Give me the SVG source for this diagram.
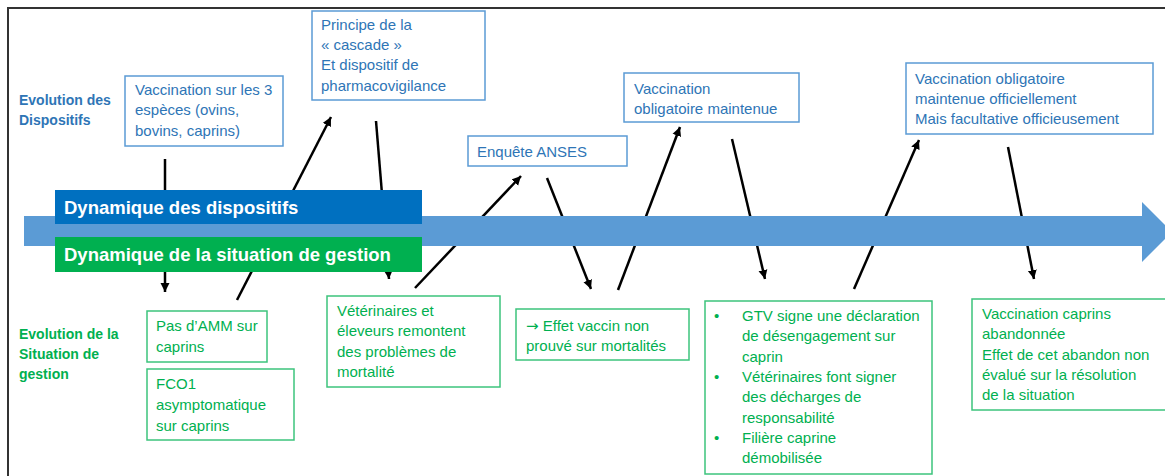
<svg xmlns="http://www.w3.org/2000/svg" width="1165" height="476" viewBox="0 0 1165 476">
<style>
text{font-family:"Liberation Sans",Arial,sans-serif;}
.bt{fill:#2E75B6;font-size:15px;}
.gt{fill:#00B050;font-size:15px;}
.bb{fill:#FFFFFF;stroke:#5B9BD5;stroke-width:1.5;}
.gb{fill:#FFFFFF;stroke:#3CC47C;stroke-width:1.5;}
.lbl{font-size:14px;font-weight:bold;}
.band{fill:#FFFFFF;font-size:18.5px;font-weight:bold;}
.con{stroke:#000000;stroke-width:2.5;fill:none;marker-end:url(#ah);}
.sym{font-family:"DejaVu Sans",sans-serif;}
</style>
<defs>
<marker id="ah" markerUnits="userSpaceOnUse" markerWidth="10" markerHeight="10" refX="9" refY="5" orient="auto">
<path d="M0,0.5 L9,5 L0,9.5 z" fill="#000000"/>
</marker>
</defs>
<rect x="0" y="0" width="1165" height="476" fill="#FFFFFF"/>
<path d="M8,476 L8,8 L1170,8" fill="none" stroke="#333333" stroke-width="2"/>

<g id="connectors">
<line class="con" x1="165" y1="159" x2="165" y2="292"/>
<line class="con" x1="237" y1="300" x2="331" y2="117"/>
<line class="con" x1="376" y1="121" x2="389" y2="279"/>
<line class="con" x1="415" y1="288" x2="521" y2="176"/>
<line class="con" x1="547" y1="178" x2="591" y2="289"/>
<line class="con" x1="618" y1="290" x2="680" y2="127"/>
<line class="con" x1="732" y1="139" x2="765" y2="279"/>
<line class="con" x1="854" y1="289" x2="919" y2="140"/>
<line class="con" x1="1008" y1="147" x2="1034" y2="279"/>
</g>

<g id="timeline">
<path d="M24,216 L1142,216 L1142,202 L1172,232 L1142,262 L1142,246 L24,246 z" fill="#5B9BD5"/>
</g>
<g id="band-dispositifs">
<rect x="55" y="190" width="367" height="34" fill="#0070C0"/>
<text class="band" x="64" y="214">Dynamique des dispositifs</text>
</g>
<g id="band-gestion">
<rect x="55" y="237" width="367" height="35" fill="#00B050"/>
<text class="band" x="64" y="261">Dynamique de la situation de gestion</text>
</g>

<g id="label-dispositifs">
<text class="lbl" fill="#2E75B6" x="19" y="105">Evolution des</text>
<text class="lbl" fill="#2E75B6" x="19" y="125">Dispositifs</text>
</g>
<g id="label-gestion">
<text class="lbl" fill="#00B050" x="19" y="339">Evolution de la</text>
<text class="lbl" fill="#00B050" x="19" y="359">Situation de</text>
<text class="lbl" fill="#00B050" x="19" y="379">gestion</text>
</g>

<g id="n-vacc3">
<rect class="bb" x="125" y="76" width="158" height="70"/>
<text class="bt" x="135" y="95">Vaccination sur les 3</text>
<text class="bt" x="135" y="115">espèces (ovins,</text>
<text class="bt" x="135" y="136">bovins, caprins)</text>
</g>
<g id="n-cascade">
<rect class="bb" x="312" y="11" width="173" height="89"/>
<text class="bt" x="321" y="30">Principe de la</text>
<text class="bt" x="321" y="50">« cascade »</text>
<text class="bt" x="321" y="70">Et dispositif de</text>
<text class="bt" x="321" y="91">pharmacovigilance</text>
</g>
<g id="n-anses">
<rect class="bb" x="468" y="136" width="159" height="30"/>
<text class="bt" x="477" y="157">Enquête ANSES</text>
</g>
<g id="n-vaccoblig">
<rect class="bb" x="624" y="73" width="175" height="49"/>
<text class="bt" x="634" y="94">Vaccination</text>
<text class="bt" x="634" y="114">obligatoire maintenue</text>
</g>
<g id="n-vaccoffic">
<rect class="bb" x="906" y="63" width="247" height="71"/>
<text class="bt" x="915" y="84">Vaccination obligatoire</text>
<text class="bt" x="915" y="104">maintenue officiellement</text>
<text class="bt" x="915" y="124">Mais facultative officieusement</text>
</g>

<g id="n-amm">
<rect class="gb" x="147" y="311" width="120" height="51"/>
<text class="gt" x="156" y="331">Pas d’AMM sur</text>
<text class="gt" x="156" y="352">caprins</text>
</g>
<g id="n-fco1">
<rect class="gb" x="147" y="369" width="147" height="71"/>
<text class="gt" x="156" y="389">FCO1</text>
<text class="gt" x="156" y="410">asymptomatique</text>
<text class="gt" x="156" y="431">sur caprins</text>
</g>
<g id="n-veto">
<rect class="gb" x="327" y="296" width="173" height="91"/>
<text class="gt" x="337" y="316">Vétérinaires et</text>
<text class="gt" x="337" y="336">éleveurs remontent</text>
<text class="gt" x="337" y="357">des problèmes de</text>
<text class="gt" x="337" y="377">mortalité</text>
</g>
<g id="n-effet">
<rect class="gb" x="516" y="309" width="173" height="51"/>
<text class="gt" x="526" y="331"><tspan class="sym">→</tspan> Effet vaccin non</text>
<text class="gt" x="526" y="351">prouvé sur mortalités</text>
</g>
<g id="n-gtv">
<rect class="gb" x="705" y="301" width="227" height="173"/>
<text class="gt" x="714" y="321">•</text>
<text class="gt" x="742" y="321">GTV signe une déclaration</text>
<text class="gt" x="742" y="341">de désengagement  sur</text>
<text class="gt" x="742" y="362">caprin</text>
<text class="gt" x="714" y="382">•</text>
<text class="gt" x="742" y="382">Vétérinaires font signer</text>
<text class="gt" x="742" y="402">des décharges de</text>
<text class="gt" x="742" y="423">responsabilité</text>
<text class="gt" x="714" y="443">•</text>
<text class="gt" x="742" y="443">Filière caprine</text>
<text class="gt" x="742" y="463">démobilisée</text>
</g>
<g id="n-abandon">
<rect class="gb" x="972" y="299" width="198" height="111"/>
<text class="gt" x="982" y="319">Vaccination caprins</text>
<text class="gt" x="982" y="339">abandonnée</text>
<text class="gt" x="982" y="360">Effet de cet abandon non</text>
<text class="gt" x="982" y="380">évalué sur la résolution</text>
<text class="gt" x="982" y="400">de la situation</text>
</g>
</svg>
